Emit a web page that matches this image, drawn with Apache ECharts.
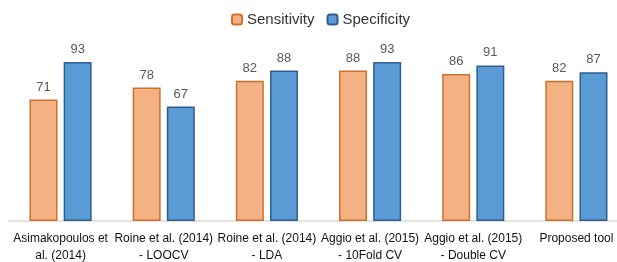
<!DOCTYPE html>
<html>
<head>
<meta charset="utf-8">
<script src="https://cdn.jsdelivr.net/npm/echarts@6/dist/echarts.min.js"></script>
<style>
  html, body { margin: 0; padding: 0; background: #fff; }
  #chart { width: 617px; height: 262px; }
</style>
</head>
<body>
<div id="chart"></div>
<script>
var categories = [
  "Asimakopoulos et\nal. (2014)",
  "Roine et al. (2014)\n- LOOCV",
  "Roine et al. (2014)\n- LDA",
  "Aggio et al. (2015)\n- 10Fold CV",
  "Aggio et al. (2015)\n- Double CV",
  "Proposed tool"
]
var sensitivity = [71, 78, 82, 88, 86, 82]
var specificity = [93, 67, 88, 93, 91, 87]

var chart = echarts.init(document.getElementById("chart"))

var labelStyle = {
  show: true,
  position: "top",
  distance: 6,
  color: "#595959",
  fontSize: 13,
  fontFamily: "Liberation Sans"
}

chart.setOption({
  animation: false,
  textStyle: { fontFamily: "Liberation Sans" },
  legend: {
    top: 7,
    left: 226,
    itemWidth: 10,
    itemHeight: 10,
    itemGap: 12,
    textStyle: { fontSize: 15, color: "#333", fontFamily: "Liberation Sans" },
    data: ["Sensitivity", "Specificity"]
  },
  // plot runs past the right edge, as in the cropped original
  grid: { left: 9, top: 50, width: 619, height: 171, outerBoundsMode: "none", containLabel: false },
  xAxis: {
    type: "category",
    data: categories,
    axisLine: { lineStyle: { color: "#d9d9d9", width: 1.5 } },
    axisTick: { show: false },
    axisLabel: {
      interval: 0,
      color: "#111",
      fontSize: 12,
      lineHeight: 17,
      margin: 9
    }
  },
  yAxis: {
    type: "value",
    min: 0,
    max: 100,
    show: false,
    splitLine: { show: false }
  },
  series: [
    {
      name: "Sensitivity",
      type: "bar",
      data: sensitivity,
      barWidth: 28,
      barGap: "22%",
      itemStyle: { color: "#f4b183", borderColor: "#d0702d", borderWidth: 1.5 },
      label: labelStyle
    },
    {
      name: "Specificity",
      type: "bar",
      data: specificity,
      barWidth: 28,
      barGap: "22%",
      itemStyle: { color: "#5b9bd5", borderColor: "#2f5f8f", borderWidth: 1.5 },
      label: labelStyle
    }
  ]
})
</script>
</body>
</html>
